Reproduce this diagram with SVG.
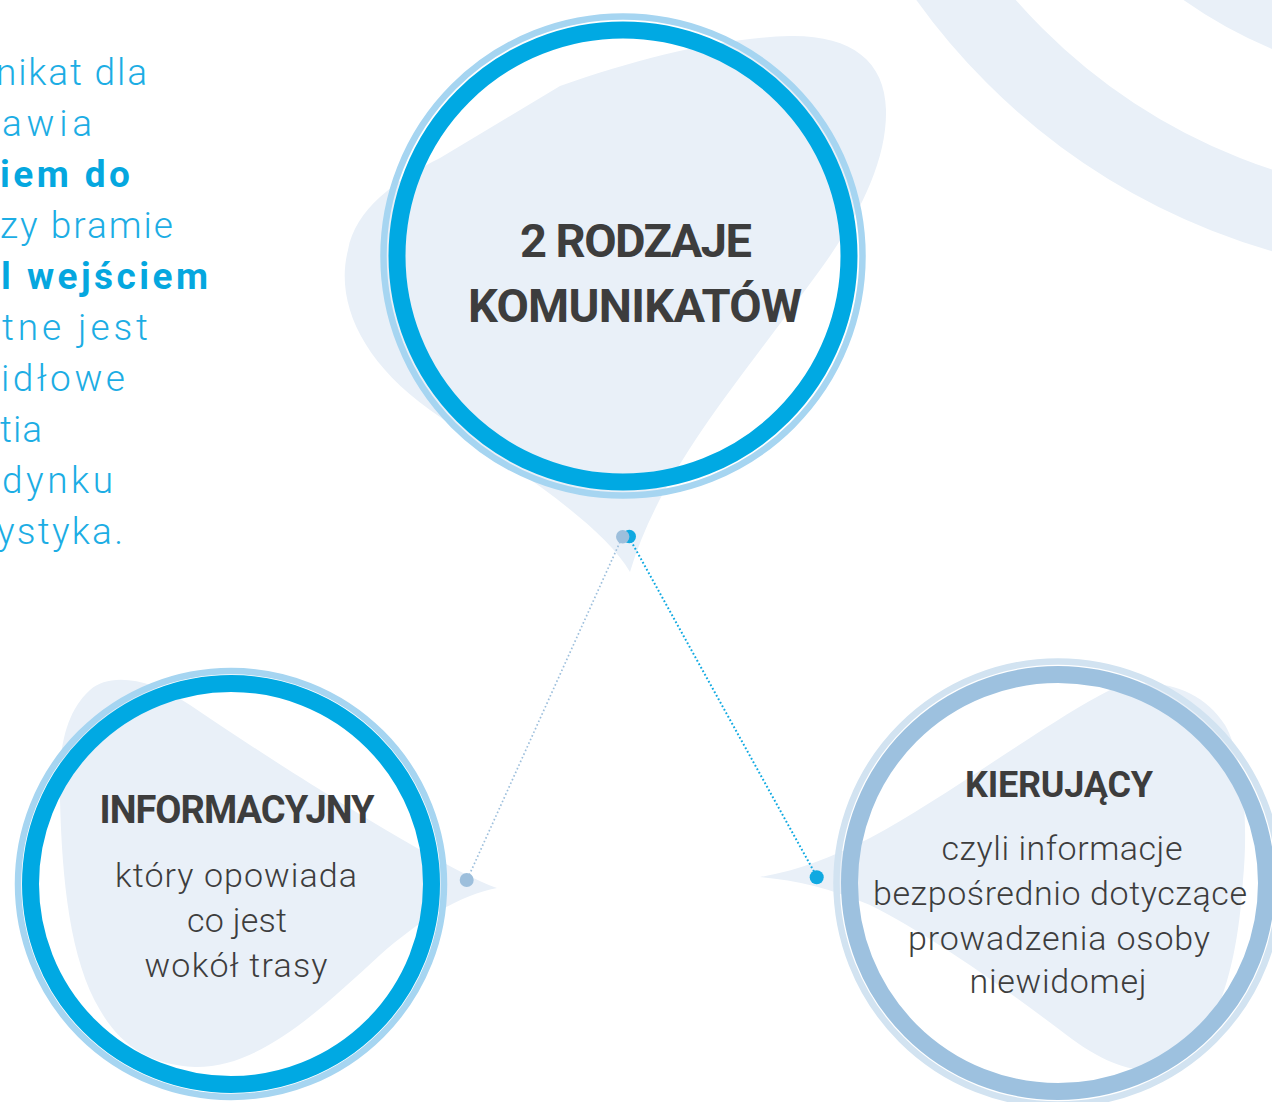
<svg xmlns="http://www.w3.org/2000/svg" width="1272" height="1102" viewBox="0 0 1272 1102">
<style>
.blob{fill:#e9f0f8}
.arc{fill:none;stroke:#e9f0f8;stroke-width:78}
.h{font-family:Roboto,"Liberation Sans",sans-serif;font-weight:700;fill:#3d3d3d;text-anchor:middle}
.b{font-family:Roboto,"Liberation Sans",sans-serif;font-weight:300;font-size:34px;fill:#3d3d3d;text-anchor:middle}
.side{font-family:Roboto,"Liberation Sans",sans-serif;font-weight:300;font-size:37px;fill:#1cade4}
.sideb{font-weight:700;fill:#05a7df}
.ringA{fill:none;stroke:#00a9e3;stroke-width:17}
.ringAl{fill:none;stroke:#a6d5f1;stroke-width:6.5}
.ringB{fill:none;stroke:#9dc1df;stroke-width:17}
.ringBl{fill:none;stroke:#d2e3f1;stroke-width:6.5}
.dotl{fill:#9dbfdc}
.dotb{fill:#10a9e1}
</style>
<rect width="1272" height="1102" fill="#ffffff"/>
<g id="background">
<circle class="arc" cx="1455" cy="-385" r="623"/>
<circle class="arc" cx="1455" cy="-385" r="432"/>
</g>
<g id="side-text">
<text class="side" x="-4" y="85" textLength="151">nikat dla</text>
<text class="side" x="2" y="136" textLength="90">awia</text>
<text class="side sideb" x="0" y="187" textLength="130">iem do</text>
<text class="side" x="0" y="238" textLength="173">zy bramie</text>
<text class="side sideb" x="1" y="289" textLength="207">l wejściem</text>
<text class="side" x="2" y="340" textLength="146">tne jest</text>
<text class="side" x="1" y="391" textLength="124">idłowe</text>
<text class="side" x="0" y="442" textLength="42">tia</text>
<text class="side" x="2" y="493" textLength="111">dynku</text>
<text class="side" x="-3" y="544" textLength="126">ystyka.</text>
</g>
<g id="node-main">
<path class="blob" d="M630,572 C600,520 500,460 430,410 C360,360 335,300 348,250 C355,210 395,180 440,158 L560,86 C640,58 720,38 790,36 C850,35 885,60 886,110 C887,160 860,215 820,270 C740,380 660,470 630,572 Z"/>
<circle class="ringAl" cx="623" cy="256" r="239.5"/>
<circle class="ringA" cx="623" cy="256" r="226"/>
<text class="h" x="636" y="257" font-size="47" textLength="232">2 RODZAJE</text>
<text class="h" x="635" y="322" font-size="47" textLength="334">KOMUNIKATÓW</text>
</g>
<g id="node-informacyjny">
<path class="blob" d="M497,888 C450,872 300,780 190,705 C150,678 110,672 90,690 C62,715 58,760 60,800 C62,880 70,960 100,1010 C120,1045 150,1065 195,1067 C260,1068 320,1010 380,955 C420,920 460,895 497,888 Z"/>
<circle class="ringAl" cx="231" cy="884" r="213"/>
<circle class="ringA" cx="231" cy="884" r="200.5"/>
<text class="h" x="237" y="823" font-size="38" textLength="275">INFORMACYJNY</text>
<text class="b" x="236" y="887" textLength="242">który opowiada</text>
<text class="b" x="237" y="932" textLength="100">co jest</text>
<text class="b" x="236" y="977" textLength="183">wokół trasy</text>
</g>
<g id="node-kierujacy">
<path class="blob" d="M760,877 C800,870 830,858 870,838 C950,795 1050,720 1110,690 C1150,675 1200,685 1225,725 C1245,760 1248,830 1243,880 C1238,960 1220,1030 1180,1060 C1150,1080 1110,1070 1060,1030 C1000,985 930,935 870,905 C830,888 795,880 760,877 Z"/>
<circle class="ringBl" cx="1058" cy="883" r="221.5"/>
<circle class="ringB" cx="1058" cy="883" r="208.5"/>
<text class="h" x="1059" y="797" font-size="36" textLength="188">KIERUJĄCY</text>
<text class="b" x="1062" y="860" textLength="241">czyli informacje</text>
<text class="b" x="1060" y="905" textLength="374">bezpośrednio dotyczące</text>
<text class="b" x="1059" y="950" textLength="302">prowadzenia osoby</text>
<text class="b" x="1058" y="993" textLength="177">niewidomej</text>
</g>
<g id="connectors">
<line x1="620" y1="542" x2="467" y2="880" stroke="#9dbfdc" stroke-width="1.7" stroke-dasharray="1.6 2.4"/>
<line x1="631" y1="541" x2="817" y2="877" stroke="#10a9e1" stroke-width="2" stroke-dasharray="1.8 2.2"/>
<circle class="dotb" cx="629.3" cy="536.5" r="6.7"/>
<circle class="dotl" cx="622.7" cy="536.8" r="6.7"/>
<circle class="dotl" cx="466.7" cy="880" r="7"/>
<circle class="dotb" cx="816.7" cy="877.3" r="7"/>
</g>
</svg>
